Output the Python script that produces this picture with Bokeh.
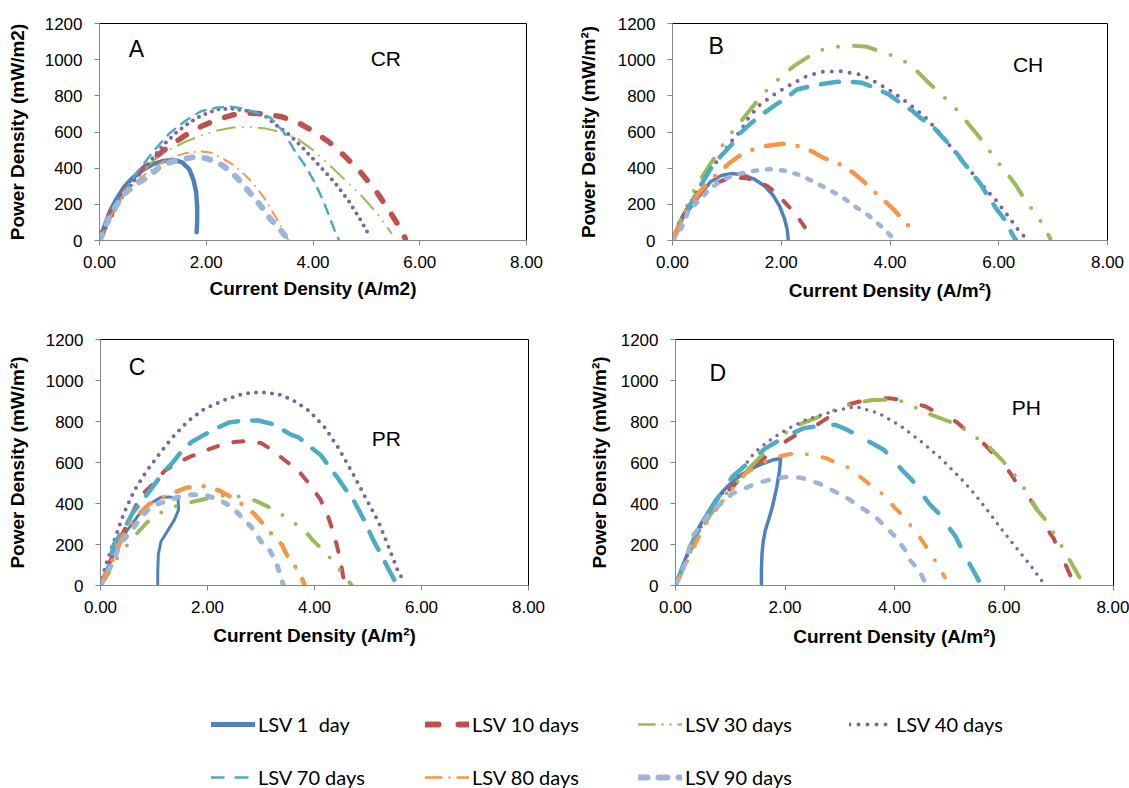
from bokeh.plotting import figure
from bokeh.models import Range1d, FixedTicker, NumeralTickFormatter, Label, Legend, LegendItem
from bokeh.layouts import column, row
from bokeh.embed import file_html
from bokeh.resources import INLINE

# ---------------- data (current density A/m2, power density mW/m2) ----------------
SERIES = ["LSV 1\u00a0 day", "LSV 10 days", "LSV 30 days", "LSV 40 days",
          "LSV 70 days", "LSV 80 days", "LSV 90 days"]
X_TICKS = [0, 2, 4, 6, 8]
Y_TICKS = [0, 200, 400, 600, 800, 1000, 1200]

# Panel A (CR)
cr_i_1 = [0.0, 0.1, 0.2, 0.3, 0.45, 0.6, 0.8, 1.0, 1.2, 1.4, 1.55, 1.68, 1.76, 1.81, 1.83, 1.83, 1.82]
cr_p_1 = [0, 85, 164, 220, 291, 340, 390, 422, 440, 445, 432, 395, 335, 270, 190, 110, 45]
cr_i_10 = [0.0, 0.2, 0.45, 0.7, 1.0, 1.3, 1.6, 1.9, 2.2, 2.5, 2.8, 3.1, 3.4, 3.7, 4.0, 4.3, 4.6, 4.9, 5.2, 5.45, 5.65, 5.73]
cr_p_10 = [0, 140, 270, 365, 450, 520, 580, 630, 668, 695, 705, 700, 685, 655, 605, 545, 465, 375, 265, 155, 60, 10]
cr_i_30 = [0.0, 0.2, 0.45, 0.7, 1.0, 1.3, 1.6, 1.9, 2.2, 2.5, 2.8, 3.1, 3.4, 3.7, 4.0, 4.3, 4.6, 4.9, 5.2, 5.47]
cr_p_30 = [0, 120, 250, 350, 440, 500, 545, 580, 608, 625, 628, 620, 600, 565, 500, 420, 335, 250, 150, 40]
cr_i_40 = [0.0, 0.2, 0.4, 0.64, 0.92, 1.2, 1.45, 1.7, 1.9, 2.2, 2.5, 2.7, 2.9, 3.1, 3.3, 3.57, 3.82, 4.1, 4.4, 4.67, 4.9, 5.07]
cr_p_40 = [0, 120, 230, 327, 427, 530, 600, 655, 690, 725, 728, 720, 708, 690, 640, 582, 509, 420, 323, 218, 110, 18]
cr_i_70 = [0.0, 0.2, 0.45, 0.7, 1.0, 1.3, 1.6, 1.9, 2.2, 2.45, 2.7, 2.95, 3.2, 3.45, 3.65, 3.85, 4.03, 4.2, 4.4, 4.49]
cr_p_70 = [0, 135, 270, 375, 490, 590, 660, 715, 735, 740, 730, 705, 680, 600, 500, 415, 323, 214, 60, 0]
cr_i_80 = [0.0, 0.2, 0.45, 0.7, 1.0, 1.3, 1.6, 1.9, 2.1, 2.3, 2.5, 2.7, 2.9, 3.1, 3.3, 3.45, 3.53]
cr_p_80 = [0, 130, 250, 330, 400, 455, 482, 493, 485, 455, 420, 370, 310, 230, 130, 50, 5]
cr_i_90 = [0.0, 0.2, 0.45, 0.7, 0.9, 1.1, 1.3, 1.5, 1.75, 2.0, 2.2, 2.4, 2.6, 2.8, 3.0, 3.2, 3.4, 3.55]
cr_p_90 = [0, 140, 255, 315, 350, 400, 430, 448, 460, 455, 435, 395, 340, 270, 200, 120, 55, 0]

# Panel B (CH)
ch_i_1 = [0.0, 0.1, 0.2, 0.35, 0.5, 0.7, 0.9, 1.1, 1.3, 1.5, 1.7, 1.85, 1.97, 2.06, 2.11, 2.13]
ch_p_1 = [0, 70, 130, 190, 250, 325, 360, 370, 363, 340, 300, 250, 190, 120, 60, 0]
ch_i_10 = [0.0, 0.14, 0.26, 0.4, 0.57, 0.75, 0.95, 1.15, 1.35, 1.55, 1.75, 1.92, 2.1, 2.28, 2.44, 2.58]
ch_p_10 = [0, 107, 171, 235, 273, 310, 335, 347, 345, 330, 300, 260, 200, 140, 70, 0]
ch_i_30 = [0.0, 0.2, 0.4, 0.57, 0.85, 1.0, 1.17, 1.31, 1.65, 2.03, 2.23, 2.66, 2.95, 3.27, 3.58, 4.07, 4.32, 4.53, 4.68, 5.11, 5.28, 5.46, 5.63, 5.97, 6.11, 6.3, 6.46, 6.77, 6.95]
ch_p_30 = [0, 150, 280, 365, 494, 564, 627, 678, 807, 914, 964, 1047, 1069, 1078, 1071, 1019, 982, 927, 881, 761, 706, 638, 577, 439, 387, 313, 236, 107, 10]
ch_i_40 = [0.0, 0.14, 0.39, 0.63, 0.82, 1.06, 1.25, 1.40, 1.61, 1.92, 2.23, 2.47, 2.75, 3.09, 3.46, 3.76, 4.07, 4.32, 4.62, 4.87, 5.11, 5.36, 5.6, 5.82, 5.97, 6.16, 6.34, 6.53]
ch_p_40 = [0, 107, 236, 365, 439, 540, 605, 678, 752, 817, 872, 909, 933, 936, 918, 872, 817, 761, 690, 610, 520, 430, 340, 265, 215, 140, 65, 0]
ch_i_70 = [0.0, 0.15, 0.33, 0.57, 0.75, 0.9, 1.09, 1.25, 1.45, 1.65, 1.86, 2.1, 2.29, 2.54, 2.75, 2.97, 3.18, 3.49, 3.75, 3.98, 4.19, 4.4, 4.56, 4.81, 5.0, 5.18, 5.33, 5.5, 5.67, 5.82, 5.97, 6.13, 6.25, 6.32]
ch_p_70 = [0, 90, 200, 330, 420, 470, 531, 595, 650, 697, 743, 790, 835, 853, 865, 875, 881, 872, 840, 807, 761, 720, 678, 623, 560, 503, 439, 375, 310, 236, 170, 107, 33, 0]
ch_i_80 = [0.0, 0.1, 0.25, 0.51, 0.7, 0.85, 1.03, 1.22, 1.45, 1.71, 2.03, 2.32, 2.55, 2.78, 3.06, 3.3, 3.5, 3.67, 3.87, 4.07, 4.25, 4.44]
ch_p_80 = [0, 60, 160, 273, 335, 374, 424, 466, 500, 522, 535, 522, 495, 457, 424, 380, 330, 282, 227, 171, 110, 52]
ch_i_90 = [0.0, 0.15, 0.3, 0.5, 0.7, 0.95, 1.2, 1.5, 1.8, 2.1, 2.35, 2.6, 2.85, 3.1, 3.35, 3.6, 3.85, 4.1]
ch_p_90 = [0, 60, 165, 225, 290, 340, 367, 385, 395, 385, 360, 325, 285, 245, 190, 140, 75, 0]

# Panel C (PR)
pr_i_1 = [0.0, 0.15, 0.3, 0.5, 0.7, 0.9, 1.13, 1.3, 1.45, 1.46, 1.38, 1.25, 1.13, 1.08, 1.07, 1.07]
pr_p_1 = [0, 95, 180, 270, 340, 395, 430, 432, 420, 370, 320, 265, 215, 150, 60, 0]
pr_i_10 = [0.0, 0.15, 0.3, 0.5, 0.75, 0.97, 1.2, 1.44, 1.69, 2.0, 2.25, 2.5, 2.75, 3.0, 3.2, 3.45, 3.7, 3.92, 4.11, 4.25, 4.38, 4.48, 4.55]
pr_p_10 = [0, 100, 190, 300, 438, 492, 560, 600, 630, 662, 685, 700, 705, 695, 662, 610, 560, 490, 420, 340, 235, 130, 20]
pr_i_30 = [0.0, 0.15, 0.28, 0.45, 0.6, 0.88, 1.16, 1.44, 1.75, 2.1, 2.35, 2.57, 2.88, 3.13, 3.35, 3.55, 3.79, 3.96, 4.17, 4.33, 4.5, 4.70]
pr_p_30 = [0, 60, 123, 180, 231, 310, 360, 390, 410, 431, 440, 435, 415, 385, 354, 315, 277, 223, 169, 123, 65, 0]
pr_i_40 = [0.0, 0.09, 0.25, 0.44, 0.63, 0.85, 1.07, 1.32, 1.63, 1.94, 2.32, 2.6, 2.85, 3.1, 3.35, 3.57, 3.89, 4.2, 4.45, 4.7, 4.95, 5.2, 5.39, 5.55, 5.67]
pr_p_40 = [0, 92, 215, 354, 462, 554, 631, 715, 800, 862, 905, 930, 942, 942, 930, 908, 854, 769, 669, 554, 431, 308, 185, 77, 20]
pr_i_70 = [0.0, 0.13, 0.25, 0.47, 0.6, 0.8, 1.0, 1.2, 1.35, 1.5, 1.7, 1.91, 2.13, 2.4, 2.66, 2.95, 3.25, 3.54, 3.7, 3.9, 4.11, 4.26, 4.42, 4.58, 4.7, 4.95, 5.08, 5.27, 5.42, 5.55]
pr_p_70 = [0, 77, 200, 290, 354, 420, 490, 560, 600, 650, 700, 731, 762, 795, 805, 805, 785, 738, 723, 680, 638, 585, 530, 469, 431, 308, 231, 138, 62, 0]
pr_i_80 = [0.0, 0.2, 0.4, 0.6, 0.9, 1.25, 1.6, 1.91, 2.23, 2.45, 2.63, 2.87, 3.04, 3.2, 3.39, 3.51, 3.64, 3.75, 3.82]
pr_p_80 = [0, 110, 230, 320, 395, 440, 477, 485, 462, 430, 400, 351, 300, 250, 200, 134, 92, 45, 0]
pr_i_90 = [0.0, 0.19, 0.38, 0.56, 0.75, 0.94, 1.15, 1.44, 1.7, 1.97, 2.2, 2.45, 2.65, 2.82, 3.0, 3.17, 3.29, 3.42]
pr_p_90 = [0, 92, 208, 262, 330, 385, 405, 431, 443, 440, 420, 385, 330, 285, 215, 169, 108, 0]

# Panel D (PH)
ph_i_1 = [0.0, 0.15, 0.3, 0.43, 0.6, 0.73, 0.9, 1.04, 1.2, 1.4, 1.6, 1.77, 1.92, 1.9, 1.85, 1.77, 1.7, 1.64, 1.6, 1.58, 1.57, 1.57]
ph_p_1 = [0, 110, 210, 286, 360, 416, 470, 506, 540, 571, 595, 612, 620, 560, 480, 384, 320, 269, 210, 155, 80, 0]
ph_i_10 = [0.0, 0.2, 0.4, 0.6, 0.8, 1.07, 1.34, 1.52, 1.8, 2.05, 2.3, 2.56, 2.85, 3.14, 3.4, 3.71, 3.95, 4.14, 4.35, 4.57, 4.84, 5.12, 5.3, 5.6, 5.85, 5.97, 6.18, 6.3, 6.49, 6.61, 6.76, 6.91, 7.0, 7.13, 7.25, 7.33]
ph_p_10 = [0, 130, 250, 340, 420, 490, 563, 600, 660, 710, 750, 780, 830, 882, 900, 915, 912, 905, 890, 873, 833, 800, 759, 700, 629, 604, 522, 465, 416, 367, 286, 229, 163, 98, 25, 0]
ph_i_30 = [0.0, 0.2, 0.4, 0.6, 0.8, 1.07, 1.34, 1.64, 2.0, 2.3, 2.56, 2.8, 3.05, 3.3, 3.6, 3.99, 4.2, 4.45, 4.7, 5.0, 5.3, 5.5, 5.72, 5.97, 6.27, 6.45, 6.61, 6.79, 6.94, 7.1, 7.25, 7.38]
ph_p_30 = [0, 120, 240, 330, 410, 490, 570, 653, 743, 790, 816, 845, 873, 890, 905, 906, 895, 857, 830, 800, 759, 720, 678, 610, 514, 440, 367, 310, 242, 171, 100, 40]
ph_i_40 = [0.0, 0.15, 0.3, 0.55, 0.8, 1.1, 1.46, 1.77, 2.07, 2.38, 2.68, 2.98, 3.29, 3.71, 4.08, 4.45, 4.81, 5.18, 5.48, 5.72, 5.97, 6.21, 6.46, 6.7]
ph_p_40 = [0, 100, 200, 330, 430, 531, 653, 718, 767, 808, 833, 857, 873, 841, 784, 710, 629, 531, 441, 359, 269, 188, 106, 20]
ph_i_70 = [0.0, 0.06, 0.3, 0.49, 0.79, 1.04, 1.25, 1.46, 1.64, 2.07, 2.34, 2.6, 2.92, 3.14, 3.59, 3.81, 4.14, 4.32, 4.63, 4.81, 5.12, 5.27, 5.54]
ph_p_70 = [0, 41, 204, 302, 433, 531, 580, 629, 669, 735, 767, 778, 784, 759, 694, 661, 563, 514, 400, 351, 237, 155, 24]
ph_i_80 = [0.0, 0.2, 0.4, 0.6, 0.85, 1.07, 1.28, 1.5, 1.7, 1.89, 2.19, 2.5, 2.77, 2.97, 3.2, 3.41, 3.62, 3.81, 3.99, 4.14, 4.29, 4.48, 4.63, 4.78, 4.92]
ph_p_80 = [0, 110, 225, 320, 410, 482, 547, 585, 612, 629, 648, 637, 620, 593, 571, 522, 478, 441, 384, 343, 294, 229, 167, 106, 40]
ph_i_90 = [0.0, 0.18, 0.3, 0.49, 0.61, 0.91, 1.04, 1.34, 1.46, 1.7, 1.9, 2.1, 2.3, 2.62, 2.98, 3.1, 3.47, 3.65, 3.9, 4.02, 4.2, 4.29, 4.45, 4.57]
ph_p_90 = [0, 106, 237, 302, 351, 416, 449, 482, 498, 514, 525, 532, 525, 498, 449, 433, 367, 335, 269, 237, 171, 122, 73, 10]

# ---------------- styles ----------------
COLORS = ["#4F81BD", "#C0504D", "#9BBB59", "#8064A2", "#4BACC6", "#F79646", "#9DB5DB"]
TICK_FONT = "Liberation Sans"
AXIS_GREY = "#868686"


def dash_string(vis, w):
    """visible dash/gap lengths (px) -> dash spec for round-capped lines"""
    if not vis:
        return "solid"
    out = []
    for k, L in enumerate(vis):
        if k % 2 == 0:
            out.append(max(0, int(round(L - w))))
        else:
            out.append(int(round(L + w)))
    return " ".join(str(v) for v in out)


PANELS = [
    dict(data=[(cr_i_1, cr_p_1), (cr_i_10, cr_p_10), (cr_i_30, cr_p_30), (cr_i_40, cr_p_40),
               (cr_i_70, cr_p_70), (cr_i_80, cr_p_80), (cr_i_90, cr_p_90)],
         widths=[4.5, 5.5, 2, 4, 2.5, 2, 6],
         dashes=[[], [15, 10], [20, 6, 0, 6, 0, 6], [0, 3], [12, 5], [12, 5, 0, 5], [12, 6]],
         w=565, h=305, border=(99, 39, 20, 65),
         ylab="Power Density (mW/m2)", xlab="Current Density (A/m2)",
         ystand=14, xstand=7,
         letter=("A", 0.55, 1129, "23px"), tag=("CR", 5.08, 1069, "21px")),
    dict(data=[(ch_i_1, ch_p_1), (ch_i_10, ch_p_10), (ch_i_30, ch_p_30), (ch_i_40, ch_p_40),
               (ch_i_70, ch_p_70), (ch_i_80, ch_p_80), (ch_i_90, ch_p_90)],
         widths=[3.5, 4, 4, 4, 4.5, 4.5, 4.5],
         dashes=[[], [13, 12], [26, 12, 0, 12, 0, 12], [0, 5], [22, 10], [22, 10, 0, 10], [9, 6]],
         w=564, h=305, border=(107, 22, 23, 64),
         ylab="Power Density (mW/m\u00b2)", xlab="Current Density (A/m\u00b2)",
         ystand=16, xstand=9,
         letter=("B", 0.66, 1149, "23px"), tag=("CH", 6.26, 1039, "21px")),
    dict(data=[(pr_i_1, pr_p_1), (pr_i_10, pr_p_10), (pr_i_30, pr_p_30), (pr_i_40, pr_p_40),
               (pr_i_70, pr_p_70), (pr_i_80, pr_p_80), (pr_i_90, pr_p_90)],
         widths=[3, 4, 4, 4, 4.5, 4.5, 5],
         dashes=[[], [14, 12], [20, 12, 0, 12, 0, 12], [0, 4], [25, 10], [18, 10, 0, 10], [10, 7]],
         w=565, h=355, border=(100, 37, 22, 73),
         ylab="Power Density (mW/m\u00b2)", xlab="Current Density (A/m\u00b2)",
         ystand=15, xstand=9,
         letter=("C", 0.53, 1128, "23px"), tag=("PR", 5.07, 774, "21px")),
    dict(data=[(ph_i_1, ph_p_1), (ph_i_10, ph_p_10), (ph_i_30, ph_p_30), (ph_i_40, ph_p_40),
               (ph_i_70, ph_p_70), (ph_i_80, ph_p_80), (ph_i_90, ph_p_90)],
         widths=[3.5, 4, 4, 3.5, 4.5, 4, 4.5],
         dashes=[[], [15, 22], [25, 12, 0, 12, 0, 12], [0, 5], [25, 15], [15, 12, 0, 12], [10, 7]],
         w=564, h=355, border=(110, 16, 34, 75),
         ylab="Power Density (mW/m\u00b2)", xlab="Current Density (A/m\u00b2)",
         ystand=8, xstand=10,
         letter=("D", 0.62, 1102, "23px"), tag=("PH", 6.14, 923, "21px")),
]


def make_panel(cfg):
    bl, br, bt, bb = cfg["border"]
    p = figure(width=cfg["w"], height=cfg["h"], x_range=Range1d(0, 8), y_range=Range1d(0, 1200),
               output_backend="svg", toolbar_location=None, tools="",
               min_border_left=bl, min_border_right=br, min_border_top=bt, min_border_bottom=bb)
    p.grid.visible = False
    p.outline_line_color = "black"
    p.outline_line_width = 1
    p.background_fill_color = "white"
    p.border_fill_color = "white"

    for ax in (p.xaxis, p.yaxis):
        ax.axis_line_color = AXIS_GREY
        ax.major_tick_line_color = AXIS_GREY
        ax.major_tick_out = 5
        ax.major_tick_in = 0
        ax.minor_tick_line_color = None
        ax.major_label_text_font = TICK_FONT
        ax.major_label_text_font_size = "17px"
        ax.major_label_text_color = "black"
        ax.axis_label_text_font = TICK_FONT
        ax.axis_label_text_font_style = "bold"
        ax.axis_label_text_font_size = "19px"
        ax.axis_label_text_color = "black"

    p.xaxis.ticker = FixedTicker(ticks=X_TICKS)
    p.xaxis.formatter = NumeralTickFormatter(format="0.00")
    p.xaxis.major_label_standoff = 10
    p.xaxis.axis_label = cfg["xlab"]
    p.xaxis.axis_label_standoff = cfg["xstand"]

    p.yaxis.ticker = FixedTicker(ticks=Y_TICKS)
    p.yaxis.major_label_standoff = 12
    p.yaxis.axis_label = cfg["ylab"]
    p.yaxis.axis_label_standoff = cfg["ystand"]

    for k, (xs, ys) in enumerate(cfg["data"]):
        w = cfg["widths"][k]
        p.line(xs, ys, line_color=COLORS[k], line_width=w,
               line_dash=dash_string(cfg["dashes"][k], w),
               line_cap="round", line_join="round")

    for txt, x, y, size in (cfg["letter"], cfg["tag"]):
        p.add_layout(Label(x=x, y=y, text=txt, text_font=TICK_FONT, text_font_size=size,
                           text_color="black", text_align="left", text_baseline="top"))
    return p


panels = [make_panel(c) for c in PANELS]

# ---------------- legend strip ----------------
LEG_WIDTHS = [5, 6, 2.5, 4, 2.5, 2.5, 6]
LEG_DASHES = [[], [19, 14], [19, 6, 0, 6, 0, 6], [0, 5], [15, 9], [19, 6, 0, 6], [15, 5]]
LEG_POS = [(211, 52), (425, 52), (638, 52), (849, 52), (211, -1), (425, -1), (638, -1)]

# the legend strip re-uses panel A's series; its range keeps the lines out of view,
# only the legend samples are shown
lf = figure(width=1129, height=128, x_range=Range1d(100, 101), y_range=Range1d(100, 101),
            output_backend="svg", toolbar_location=None, tools="",
            x_axis_type=None, y_axis_type=None, min_border=0)
lf.grid.visible = False
lf.outline_line_color = None
for k, name in enumerate(SERIES):
    w = LEG_WIDTHS[k]
    xs, ys = PANELS[0]["data"][k]
    r = lf.line(xs, ys, line_color=COLORS[k], line_width=w,
                line_dash=dash_string(LEG_DASHES[k], w), line_cap="round", line_join="round")
    leg = Legend(items=[LegendItem(label=name, renderers=[r])], location=LEG_POS[k],
                 orientation="vertical", padding=0, margin=0, spacing=0,
                 glyph_width=44, glyph_height=22, label_standoff=3,
                 border_line_color=None, background_fill_alpha=0,
                 label_text_font="Lato", label_text_font_size="20px", label_text_color="black")
    lf.add_layout(leg)

layout = column(row(panels[0], panels[1]), row(panels[2], panels[3]), lf)

open("out.html", "w").write(file_html(layout, INLINE))
